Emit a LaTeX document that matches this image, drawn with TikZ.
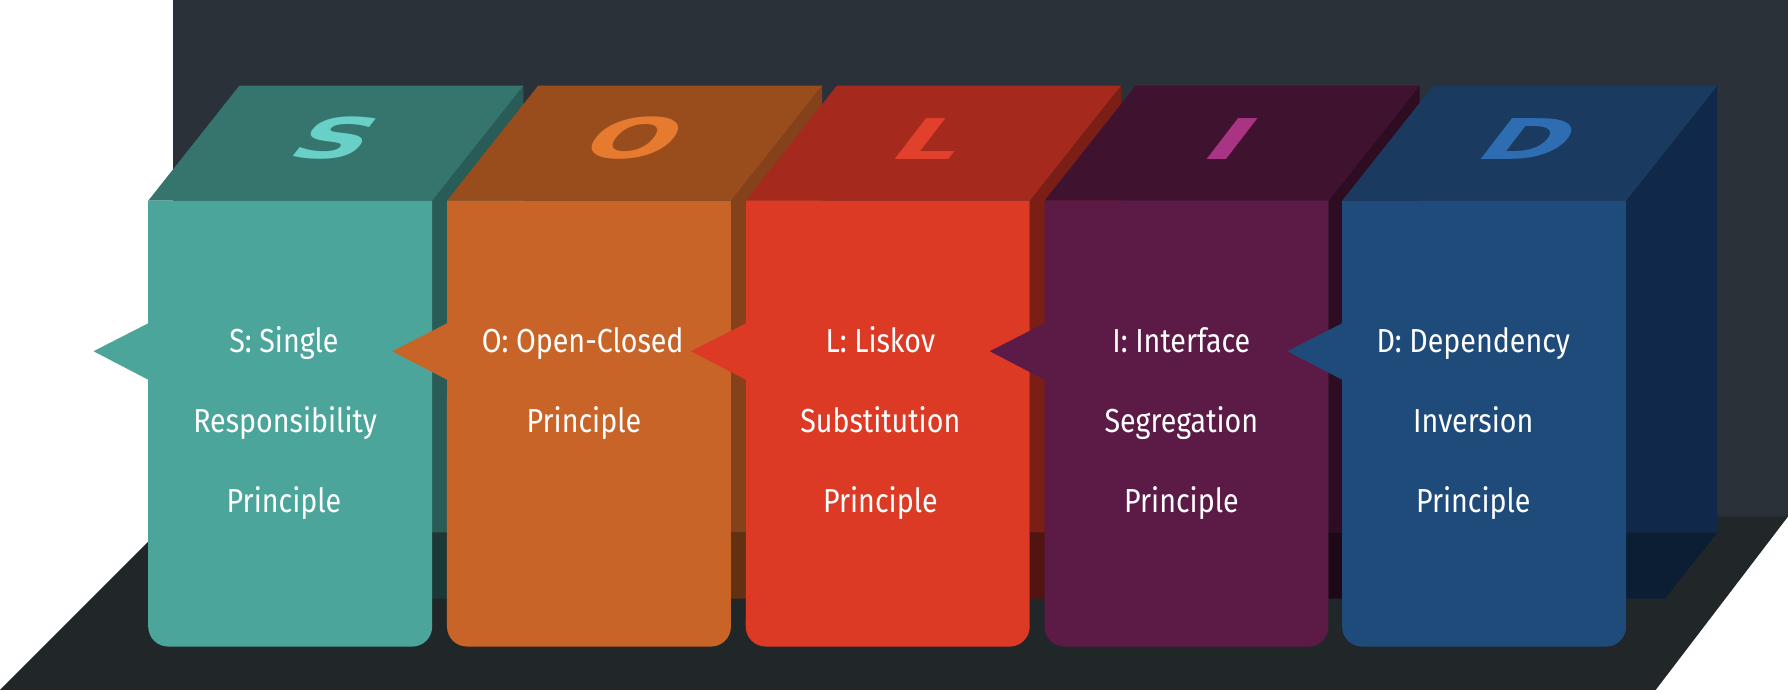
\documentclass[tikz,border=0pt]{standalone}
\usepackage{fontspec}
\setmainfont{Fira Sans}[FakeStretch=0.86]
\newfontfamily\letterfont{DejaVu Sans}
\definecolor{wall}{HTML}{2A3139}
\definecolor{floorc}{HTML}{212729}
% teal
\definecolor{front0}{HTML}{4BA59B}\definecolor{top0}{HTML}{36746E}
\definecolor{side0}{HTML}{2A5C57}\definecolor{shad0}{HTML}{1C3836}\definecolor{let0}{HTML}{68D0C6}
% orange
\definecolor{front1}{HTML}{C86428}\definecolor{top1}{HTML}{994D1D}
\definecolor{side1}{HTML}{84411A}\definecolor{shad1}{HTML}{633011}\definecolor{let1}{HTML}{E67A2F}
% red
\definecolor{front2}{HTML}{DC3A25}\definecolor{top2}{HTML}{A6291D}
\definecolor{side2}{HTML}{7B1E15}\definecolor{shad2}{HTML}{521410}\definecolor{let2}{HTML}{E0402C}
% purple
\definecolor{front3}{HTML}{5C1A46}\definecolor{top3}{HTML}{3F1230}
\definecolor{side3}{HTML}{2E0C22}\definecolor{shad3}{HTML}{1F0816}\definecolor{let3}{HTML}{AA3484}
% blue
\definecolor{front4}{HTML}{1F4B7B}\definecolor{top4}{HTML}{1A3A60}
\definecolor{side4}{HTML}{10294A}\definecolor{shad4}{HTML}{0B1E33}\definecolor{let4}{HTML}{2F6DB2}
\begin{document}
\begin{tikzpicture}[x=0.01cm,y=-0.01cm,
  lbl/.style={text=white,font=\fontsize{8.3}{10}\selectfont,anchor=base,inner sep=0pt},
  letter/.style={font=\letterfont\bfseries\fontsize{14}{14}\selectfont,inner sep=0pt,transform shape,xscale=1.85}]
\useasboundingbox (0,0) rectangle (1568,608);
% back wall and floor
\fill[wall] (152,0) rectangle (1568,453);
\fill[floorc] (0,605) -- (1452,605) -- (1568,453) -- (152,453) -- cycle;
% boxes
\foreach \i/\L/\ch in {0/130/S,1/392/O,2/654/L,3/916/I,4/1177/D}{
  \pgfmathsetmacro{\R}{\L+249}
  \fill[side\i] (\R,176) -- (\R+80,75) -- (\R+80,467) -- (\R,467) -- cycle;
  \fill[shad\i] (\R,467) -- (\R+80,467) -- (\R+34,525) -- (\R,525) -- cycle;
  \fill[top\i] (\L,176) -- (\R,176) -- (\R+80,75) -- (\L+80,75) -- cycle;
  \fill[front\i] (\L,176) -- (\R,176) -- (\R,549.5)
      arc[start angle=0,end angle=-90,radius=0.175cm] -- (\L+17.5,567)
      arc[start angle=-90,end angle=-180,radius=0.175cm] -- (\L,333)
      -- (\L-48,308) -- (\L,283.5) -- cycle;
  \begin{scope}[shift={(\L+165,121.5)},xslant=0.77]
    \node[letter,text=let\i] (letter\i) at (0,0) {\ch};
  \end{scope}
}
% labels
\node[lbl] (t0a) at (249,309) {S: Single};
\node[lbl] (t0b) at (250,379) {Responsibility};
\node[lbl] (t0c) at (249,449) {Principle};
\node[lbl] (t1a) at (511,309) {O: Open-Closed};
\node[lbl] (t1b) at (512,379) {Principle};
\node[lbl] (t2a) at (772,309) {L: Liskov};
\node[lbl] (t2b) at (772,379) {Substitution};
\node[lbl] (t2c) at (772,449) {Principle};
\node[lbl] (t3a) at (1036,309) {I: Interface};
\node[lbl] (t3b) at (1036,379) {Segregation};
\node[lbl] (t3c) at (1036,449) {Principle};
\node[lbl] (t4a) at (1292,309) {D: Dependency};
\node[lbl] (t4b) at (1292,379) {Inversion};
\node[lbl] (t4c) at (1292,449) {Principle};
\end{tikzpicture}
\end{document}
